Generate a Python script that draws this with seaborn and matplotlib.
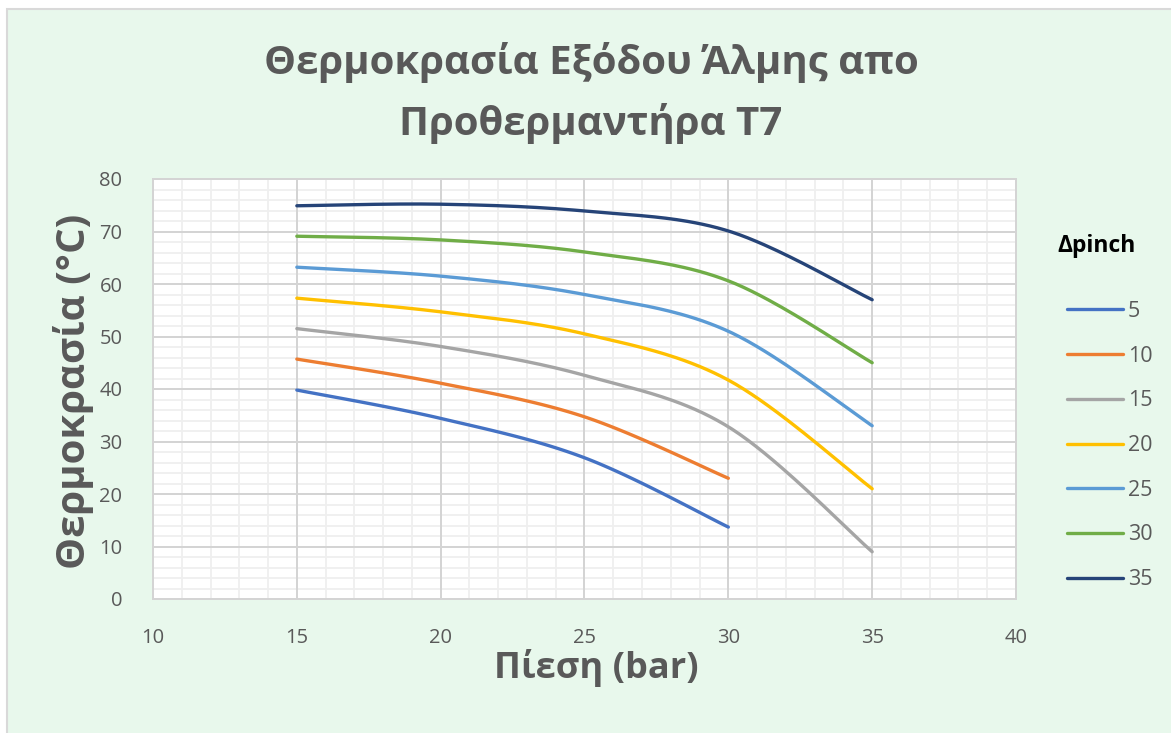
import numpy as np
import pandas as pd
import matplotlib
matplotlib.use("Agg")
import matplotlib.pyplot as plt
from matplotlib.patches import Rectangle
from matplotlib.lines import Line2D
from matplotlib.ticker import MultipleLocator
import seaborn as sns

# Chart data: outlet brine temperature vs pressure for each pinch difference
pressure = [15, 20, 25, 30, 35]
pinch_labels = ["5", "10", "15", "20", "25", "30", "35"]
t_pinch_5 = [39.8, 34.4, 26.9, 13.7]
t_pinch_10 = [45.7, 41.1, 34.7, 23.0]
t_pinch_15 = [51.5, 48.1, 42.6, 32.8, 9.0]
t_pinch_20 = [57.3, 54.7, 50.5, 41.7, 21.0]
t_pinch_25 = [63.2, 61.5, 58.0, 51.0, 33.0]
t_pinch_30 = [69.1, 68.4, 66.1, 60.6, 45.0]
t_pinch_35 = [74.9, 75.2, 73.9, 70.1, 57.0]
series = [t_pinch_5, t_pinch_10, t_pinch_15, t_pinch_20,
          t_pinch_25, t_pinch_30, t_pinch_35]
colors = ["#4472C4", "#ED7D31", "#A5A5A5", "#FFC000",
          "#5B9BD5", "#70AD47", "#264478"]

title_text = "Θερμοκρασία Εξόδου Άλμης απο\nΠροθερμαντήρα T7"
x_label = "Πίεση (bar)"
y_label = "Θερμοκρασία (°C)"
legend_title = "Δpinch"

TEXT = "#595959"
BG = "#E8F8EC"
X_LIM, Y_LIM = (10, 40), (0, 80)


def smooth_path(xs, ys, n=40):
    """Catmull-Rom style Bezier smoothing (spreadsheet 'smoothed line')."""
    p = np.column_stack([xs, ys]).astype(float)
    out = [p[0]]
    m = len(p)
    t = np.linspace(0, 1, n)[1:, None]
    for i in range(m - 1):
        p0 = p[i - 1] if i > 0 else p[i]
        p1, p2 = p[i], p[i + 1]
        p3 = p[i + 2] if i + 2 < m else p[i + 1]
        c1 = p1 + (p2 - p0) / 6.0
        c2 = p2 - (p3 - p1) / 6.0
        seg = ((1 - t) ** 3) * p1 + 3 * ((1 - t) ** 2) * t * c1 \
            + 3 * (1 - t) * t ** 2 * c2 + t ** 3 * p2
        out.extend(seg)
    out = np.array(out)
    return out[:, 0], out[:, 1]


frames = []
for lab, vals in zip(pinch_labels, series):
    sx, sy = smooth_path(pressure[:len(vals)], vals)
    frames.append(pd.DataFrame({"x": sx, "y": sy, "pinch": lab}))
df = pd.concat(frames, ignore_index=True)

sns.set_theme(style="white")
plt.rcParams["font.family"] = ["Open Sans", "DejaVu Sans"]

fig = plt.figure(figsize=(11.71, 7.33), dpi=100, facecolor="white")
fig.patches.append(Rectangle((7 / 1171, -0.01), 1.02, 1 - 9 / 733 + 0.01,
                             transform=fig.transFigure, facecolor=BG,
                             edgecolor="#D9D9D9", linewidth=1.5,
                             zorder=-10))

ax = fig.add_axes([153 / 1171, 1 - 599 / 733, (1016 - 153) / 1171,
                   (599 - 179) / 733])
ax.set_zorder(1)
ax.set_facecolor("white")

# light minor grid underneath everything else
minor_x = np.arange(X_LIM[0], X_LIM[1] + 1, 1)
minor_y = np.arange(Y_LIM[0], Y_LIM[1] + 2, 2)
ax.vlines(minor_x, *Y_LIM, color="#EFEFEF", linewidth=1.3, zorder=0.1)
ax.hlines(minor_y, *X_LIM, color="#EFEFEF", linewidth=1.3, zorder=0.1)

sns.lineplot(data=df, x="x", y="y", hue="pinch", palette=colors,
             hue_order=pinch_labels, sort=False, estimator=None,
             linewidth=2.4, ax=ax, legend=False, zorder=3)
for ln in ax.get_lines():
    ln.set_solid_capstyle("round")

ax.set_xlim(*X_LIM)
ax.set_ylim(*Y_LIM)
ax.xaxis.set_major_locator(MultipleLocator(5))
ax.yaxis.set_major_locator(MultipleLocator(10))
ax.grid(which="major", color="#D4D4D4", linewidth=1.4)
ax.set_axisbelow(True)
for s in ax.spines.values():
    s.set_color("#D4D4D4")
    s.set_linewidth(1.4)
ax.tick_params(axis="both", which="both", length=0, labelsize=14.5,
               labelcolor=TEXT)
ax.tick_params(axis="y", pad=22)
ax.tick_params(axis="x", pad=21)

ax.set_xlabel("")
ax.set_ylabel("")
fig.text(596 / 1171, 1 - 668 / 733, x_label, ha="center", va="center",
         fontsize=26, fontweight="bold", color=TEXT)
fig.text(74 / 1171, 1 - 391 / 733, y_label, ha="center", va="center",
         rotation=90, fontsize=29, fontweight="bold", color=TEXT)
fig.text(591 / 1171, 1 - 93 / 733, title_text, ha="center", va="center",
         fontsize=29, fontweight="bold", color=TEXT, linespacing=1.6)

handles = [Line2D([], [], color=c, linewidth=2.4, solid_capstyle="round")
           for c in colors]
leg = fig.legend(handles, pinch_labels, loc="upper left",
                 bbox_to_anchor=(1067 / 1171, 1 - 301 / 733),
                 frameon=False, fontsize=15.5, labelcolor=TEXT,
                 handlelength=2.6, handletextpad=0.22, labelspacing=1.1,
                 borderaxespad=0, borderpad=0)
fig.text(1097 / 1171, 1 - 246 / 733, legend_title, ha="center",
         va="center", fontsize=16.5, fontweight="bold", color="black")

fig.savefig("out.png", dpi=100, facecolor="white")
